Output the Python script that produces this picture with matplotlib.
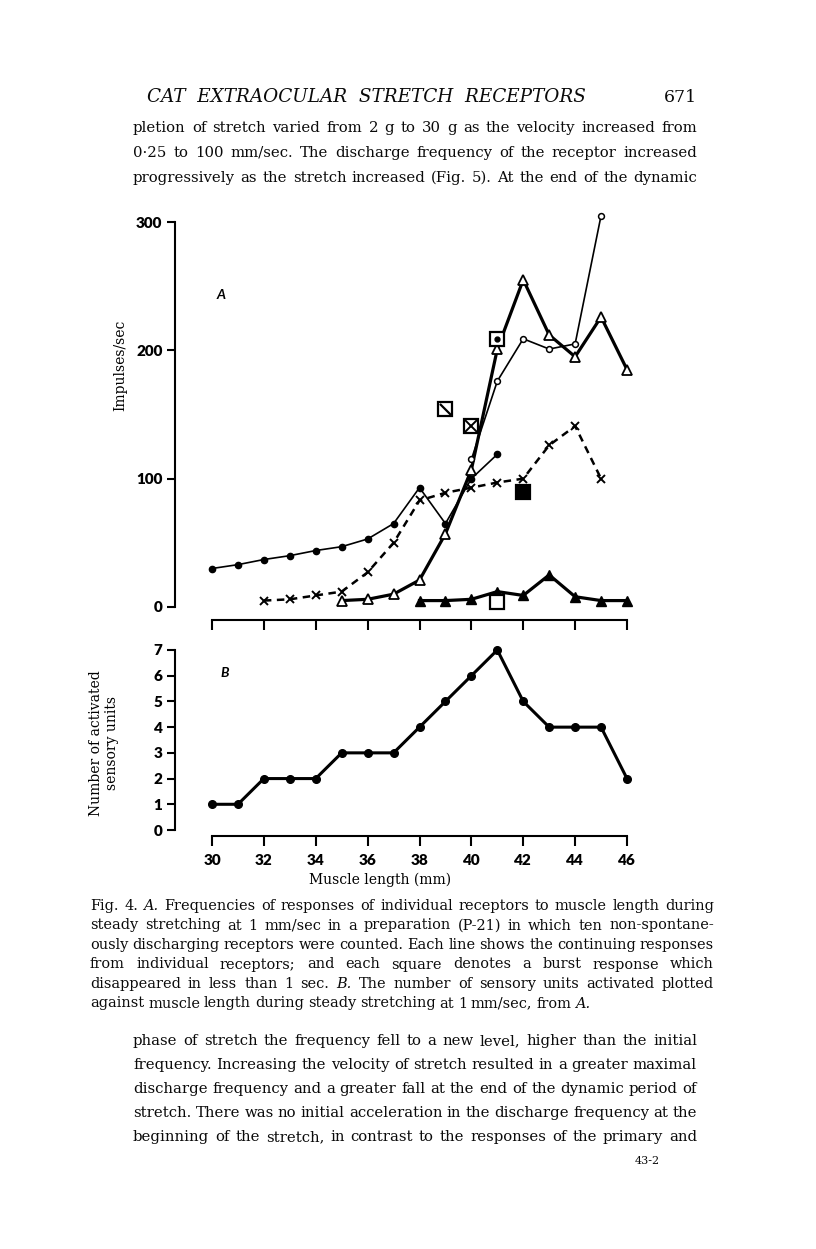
import matplotlib
matplotlib.use("Agg")
import matplotlib.pyplot as plt
from matplotlib.transforms import IdentityTransform

W, H = 816, 1249

# ---- panel A: impulses/sec against muscle length (mm) ----
len_dot = [30, 31, 32, 33, 34, 35, 36, 37, 38, 39, 40, 41]
imp_dot = [30, 33, 37, 40, 44, 47, 53, 65, 93, 65, 100, 119]

len_cross = [32, 33, 34, 35, 36, 37, 38, 39, 40, 41, 42, 43, 44, 45]
imp_cross = [5, 6, 9, 12, 27, 50, 83, 89, 93, 97, 100, 126, 141, 100]

len_otri = [35, 36, 37, 38, 39, 40, 41, 42, 43, 44, 45, 46]
imp_otri = [5, 6, 10, 21, 57, 107, 201, 255, 212, 195, 226, 185]

len_ocirc = [40, 41, 42, 43, 44, 45]
imp_ocirc = [115, 176, 209, 201, 205, 305]

len_ftri = [38, 39, 40, 41, 42, 43, 44, 45, 46]
imp_ftri = [5, 5, 6, 12, 9, 25, 8, 5, 5]

# burst responses (squares)
burst_len = [39, 40, 41, 42, 41]
burst_imp = [154, 141, 209, 90, 4]
burst_kind = ["slash", "cross", "dot", "filled", "open"]

# ---- panel B: number of activated units ----
units_len = [30, 31, 32, 33, 34, 35, 36, 37, 38, 39, 40, 41, 42, 43, 44, 45, 46]
units_n = [1, 1, 2, 2, 2, 3, 3, 3, 4, 5, 6, 7, 5, 4, 4, 4, 2]

a_yticks = [0, 100, 200, 300]
b_yticks = [0, 1, 2, 3, 4, 5, 6, 7]
xticks = [30, 32, 34, 36, 38, 40, 42, 44, 46]

header = "CAT  EXTRAOCULAR  STRETCH  RECEPTORS"
page_no = "671"
top_lines = [
    "pletion of stretch varied from 2 g to 30 g as the velocity increased from",
    "0\u00b725 to 100 mm/sec. The discharge frequency of the receptor increased",
    "progressively as the stretch increased (Fig. 5). At the end of the dynamic",
]
caption_lines = [
    "Fig. 4. _A._ Frequencies of responses of individual receptors to muscle length during",
    "steady stretching at 1 mm/sec in a preparation (P-21) in which ten non-spontane-",
    "ously discharging receptors were counted. Each line shows the continuing responses",
    "from individual receptors; and each square denotes a burst response which",
    "disappeared in less than 1 sec. _B._ The number of sensory units activated plotted",
    "against muscle length during steady stretching at 1 mm/sec, from _A._",
]
bottom_lines = [
    "phase of stretch the frequency fell to a new level, higher than the initial",
    "frequency. Increasing the velocity of stretch resulted in a greater maximal",
    "discharge frequency and a greater fall at the end of the dynamic period of",
    "stretch. There was no initial acceleration in the discharge frequency at the",
    "beginning of the stretch, in contrast to the responses of the primary and",
]
footer = "43-2"

fig = plt.figure(figsize=(W / 100, H / 100), dpi=100)
fig.patch.set_facecolor("white")
rend = fig.canvas.get_renderer()
PIX = IdentityTransform()
SERIF = "DejaVu Serif"
SANS = "Lato"
INK = "#0a0a0a"
SPACE = 0.27  # word gap, in em


def px_axes(left, top, right, bottom):
    return fig.add_axes([left / W, 1 - bottom / H, (right - left) / W, (bottom - top) / H])


def lims(p0, v0, p1, v1, lo, hi):
    # value range of an axis side running from pixel lo to pixel hi
    k = (v1 - v0) / (p1 - p0)
    return v0 + (lo - p0) * k, v0 + (hi - p0) * k


def word_width(w, size):
    style = "italic" if w.startswith("_") else "normal"
    t = fig.text(0, 0, w.strip("_"), fontsize=size, family=SERIF, style=style,
                 transform=PIX)
    wd = t.get_window_extent(rend).width
    t.remove()
    return wd


def fit_size(lines, width):
    # largest size at which every line fits with plain word gaps
    ref = 10.0
    best = 100.0
    for l in lines:
        words = l.split()
        ink = sum(word_width(w, ref) for w in words) / ref
        gaps = (len(words) - 1) * SPACE * 100 / 72
        best = min(best, width / (ink + gaps))
    return best


def put_line(line, x0, x1, y, size, justify=True):
    words = line.split()
    items = []
    for w in words:
        style = "italic" if w.startswith("_") else "normal"
        t = fig.text(0, H - y, w.strip("_"), fontsize=size, family=SERIF, style=style,
                     va="baseline", ha="left", transform=PIX, color=INK)
        items.append(t)
    widths = [t.get_window_extent(rend).width for t in items]
    if justify and len(items) > 1:
        gap = (x1 - x0 - sum(widths)) / (len(items) - 1)
    else:
        gap = SPACE * size * 100 / 72
    x = x0
    for t, w in zip(items, widths):
        t.set_x(x)
        x += w + gap


# ---------------- panel A ----------------
axA = px_axes(175, 200, 640, 620)
axA.set_xlim(*lims(212, 30, 627, 46, 175, 640))
axA.set_ylim(lims(607, 0, 222, 300, 620, 200))

line_kw = dict(color="black", clip_on=False)
axA.plot(len_dot, imp_dot, marker="o", ms=4.5, lw=1.2, **line_kw, zorder=3)
axA.plot(len_cross, imp_cross, marker="x", ms=6, mew=1.4, lw=1.8,
         dashes=(3, 2.2), **line_kw, zorder=3)
axA.plot(len_otri, imp_otri, marker="^", ms=7, mfc="white", mew=1.3, lw=2.3,
         **line_kw, zorder=4)
axA.plot(len_ocirc, imp_ocirc, marker="o", ms=4.2, mfc="white", mew=1.1, lw=1.2,
         **line_kw, zorder=5)
axA.plot(len_ftri, imp_ftri, marker="^", ms=7, lw=2.3, **line_kw, zorder=4)

sq = dict(ms=10, mew=1.6, mec="black", ls="none", clip_on=False, zorder=6)
for x, y, kind in zip(burst_len, burst_imp, burst_kind):
    face = "black" if kind == "filled" else "white"
    axA.plot([x], [y], marker="s", mfc=face, **sq)
    if kind == "slash":
        axA.plot([x], [y], marker=[(-1, 1), (1, -1)], ms=8, mew=1.6,
                 color="black", ls="none", zorder=7)
    elif kind == "cross":
        axA.plot([x], [y], marker="x", ms=8, mew=1.4, color="black",
                 ls="none", zorder=7)
    elif kind == "dot":
        axA.plot([x], [y], marker="o", ms=3.5, color="black", ls="none", zorder=7)

fig.text(217, H - 295, "A", fontsize=10, family=SANS, style="italic",
         fontweight="bold", ha="left", va="center", transform=PIX)

# ---------------- panel B ----------------
axB = px_axes(175, 638, 640, 836)
axB.set_xlim(*lims(212, 30, 627, 46, 175, 640))
axB.set_ylim(lims(830, 0, 650, 7, 836, 638))
axB.plot(units_len, units_n, marker="o", ms=5.5, lw=2.2, color="black",
         clip_on=False, zorder=3)
fig.text(220, H - 673, "B", fontsize=10, family=SANS, style="italic",
         fontweight="bold", ha="left", va="center", transform=PIX)

for ax, yt_, ymax in ((axA, a_yticks, 300), (axB, b_yticks, 7)):
    ax.spines["top"].set_visible(False)
    ax.spines["right"].set_visible(False)
    ax.spines["left"].set_bounds(0, ymax)
    ax.spines["bottom"].set_bounds(30, 46)
    for s in ("left", "bottom"):
        ax.spines[s].set_linewidth(1.5)
    ax.set_yticks(yt_)
    ax.set_xticks(xticks)
    ax.tick_params(axis="both", direction="out", width=1.5, length=6,
                   labelsize=11, pad=3)
    ax.tick_params(axis="x", length=7, pad=6)
    for lab in ax.get_yticklabels() + ax.get_xticklabels():
        lab.set_family(SANS)
        lab.set_fontweight("heavy")
    ax.patch.set_visible(False)
axA.set_xticklabels([])

fig.text(120, H - 365, "Impulses/sec", rotation=90, fontsize=10, family=SERIF,
         ha="center", va="center", transform=PIX)
fig.text(104, H - 743, "Number of activated\nsensory units", rotation=90,
         fontsize=10, family=SERIF, ha="center", va="center", linespacing=1.1,
         transform=PIX)
fig.text(380, H - 880, "Muscle length (mm)", fontsize=10, family=SERIF,
         ha="center", va="center", transform=PIX)

# ---------------- page text ----------------
fig.text(147, H - 102, header, fontsize=13.2, family=SERIF, style="italic",
         va="baseline", ha="left", transform=PIX, color=INK)
fig.text(697, H - 102, page_no, fontsize=12.5, family=SERIF,
         va="baseline", ha="right", transform=PIX, color=INK)

bsize = fit_size(top_lines + bottom_lines, 697 - 133)
for i, l in enumerate(top_lines):
    put_line(l, 133, 697, 132 + 25 * i, bsize)
for i, l in enumerate(bottom_lines):
    put_line(l, 133, 697, 1045 + 24 * i, bsize)

csize = fit_size(caption_lines[:-1], 714 - 90)
for i, l in enumerate(caption_lines):
    put_line(l, 90, 714, 910 + 19.5 * i, csize, justify=i < len(caption_lines) - 1)

fig.text(660, H - 1164, footer, fontsize=8, family=SERIF, ha="right",
         va="baseline", transform=PIX, color=INK)

fig.savefig("out.png", dpi=100)
